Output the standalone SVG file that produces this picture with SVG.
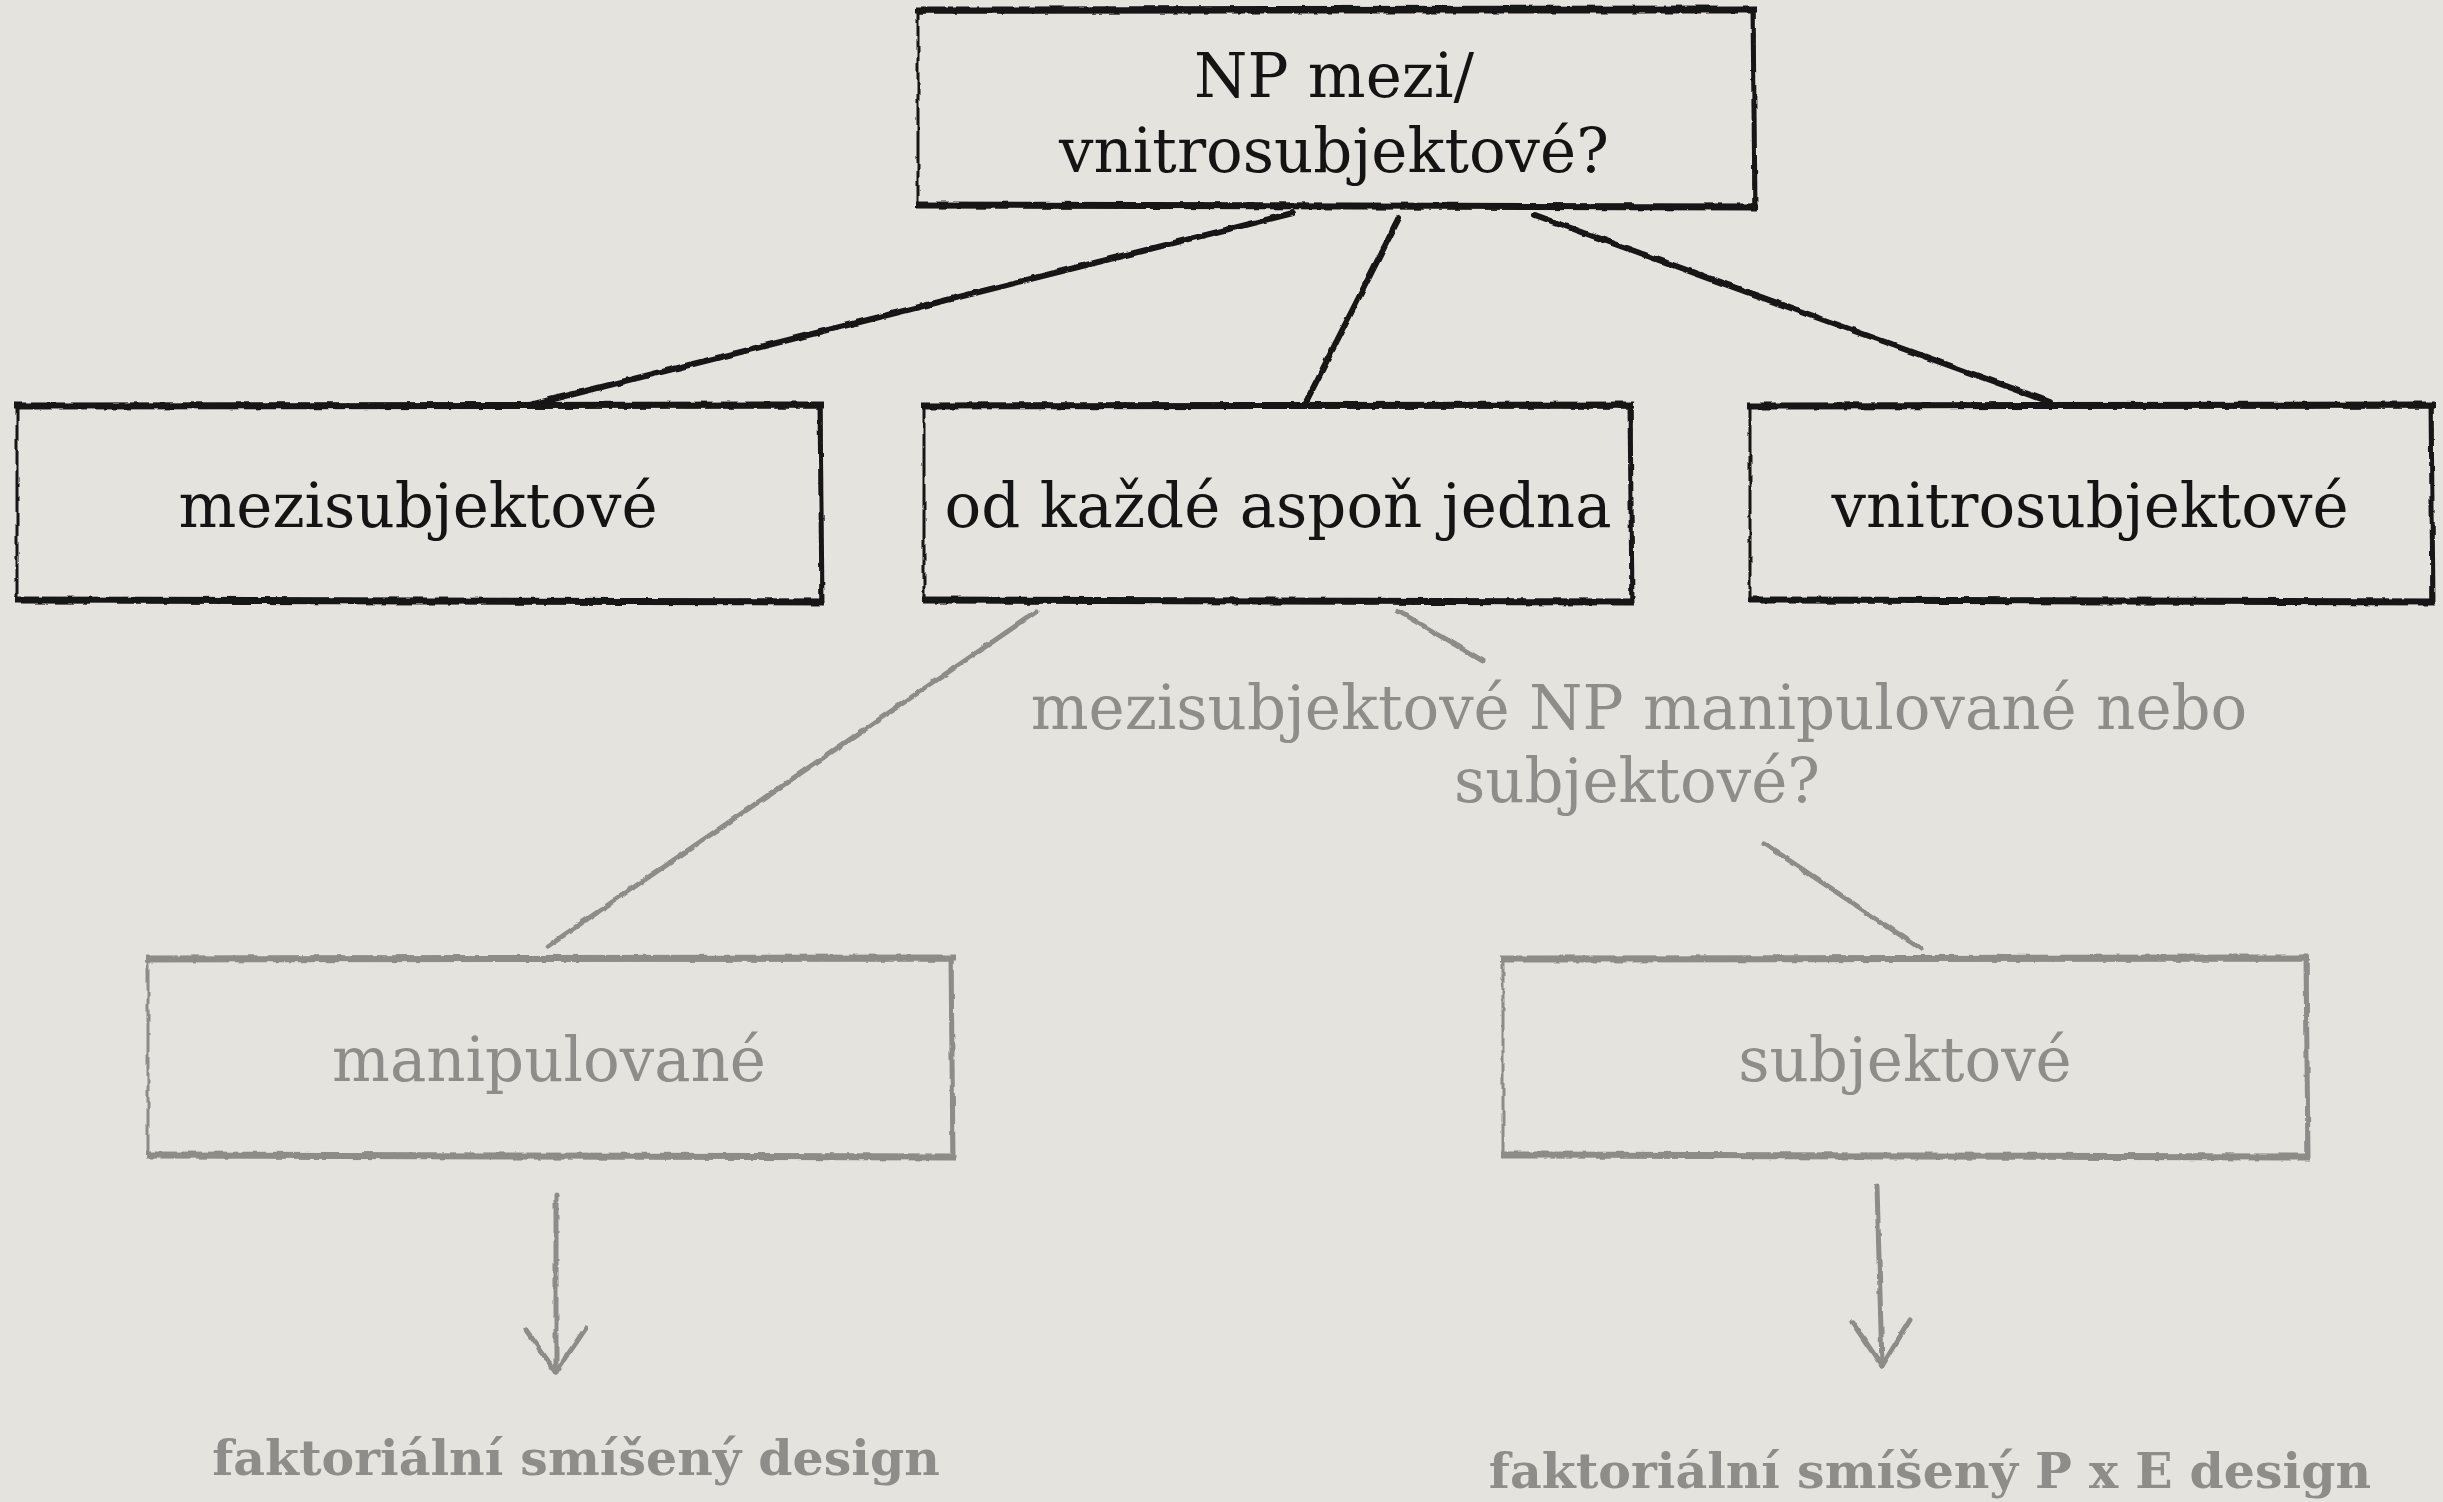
<svg xmlns="http://www.w3.org/2000/svg" width="2443" height="1502" viewBox="0 0 2443 1502">
<defs>
<style>
.bk{fill:none;stroke:#151515;stroke-width:5}
.bkh{fill:none;stroke:#151515;stroke-width:7}
.bkt{fill:none;stroke:#151515;stroke-width:3}
.gy{fill:none;stroke:#8d8c89;stroke-width:5}
.gyh{fill:none;stroke:#8d8c89;stroke-width:7}
.t{font-family:"DejaVu Serif","Liberation Serif",serif;font-size:61px;text-anchor:middle}
.tb{fill:#141414}
.tg{fill:#8e8d8a}
.bold{font-family:"DejaVu Serif","Liberation Serif",serif;font-weight:bold;font-size:49px;text-anchor:middle;fill:#8e8d8a}
.cb{fill:none;stroke:#151515;stroke-width:6;stroke-linecap:round}
.cg{fill:none;stroke:#8d8c89;stroke-width:5;stroke-linecap:round;stroke-linejoin:round}
.rough{filter:url(#rough)}
</style>
<filter id="rough" x="-5%" y="-5%" width="110%" height="110%">
<feTurbulence type="fractalNoise" baseFrequency="0.08" numOctaves="2" seed="7" result="n"/>
<feDisplacementMap in="SourceGraphic" in2="n" scale="4" xChannelSelector="R" yChannelSelector="G"/>
</filter>
</defs>
<rect x="0" y="0" width="2443" height="1502" fill="#e5e3de"/>

<g id="connectors" class="rough">
<path class="cb" d="M1293,213 L530,405"/>
<path class="cb" d="M1399,218 L1306,402"/>
<path class="cb" d="M1535,215 L2050,402"/>
<path class="cg" d="M1036,612 L548,946"/>
<path class="cg" d="M1398,611 L1483,661"/>
<path class="cg" d="M1765,844 L1921,949"/>
<path class="cg" d="M556,1195 L556,1372"/>
<path class="cg" d="M526,1330 L556,1372 L586,1328"/>
<path class="cg" d="M1877,1186 L1882,1366"/>
<path class="cg" d="M1852,1322 L1882,1366 L1910,1320"/>
</g>

<g id="n-top">
<g class="rough">
<rect class="bkt" x="918" y="12" width="836" height="194"/>
<path class="bkh" d="M915,10 L1757,9 M916,205 L1758,207"/>
<path class="bk" d="M1753,10 L1755,208"/>
</g>
<text class="t tb" x="1334" y="97">NP mezi/</text>
<text class="t tb" x="1334" y="172">vnitrosubjektové?</text>
</g>

<g id="n-mezi">
<g class="rough">
<rect class="bkt" x="17" y="407" width="804" height="194"/>
<path class="bkh" d="M14,406 L824,405 M15,600 L824,602"/>
<path class="bk" d="M820,405 L822,603"/>
</g>
<text class="t tb" x="418" y="527">mezisubjektové</text>
</g>

<g id="n-kazde">
<g class="rough">
<rect class="bkt" x="924" y="407" width="707" height="194"/>
<path class="bkh" d="M921,406 L1634,405 M922,600 L1634,602"/>
<path class="bk" d="M1630,405 L1632,603"/>
</g>
<text class="t tb" x="1278" y="527">od každé aspoň jedna</text>
</g>

<g id="n-vnitro">
<g class="rough">
<rect class="bkt" x="1750" y="407" width="682" height="194"/>
<path class="bkh" d="M1747,406 L2435,405 M1748,600 L2435,602"/>
<path class="bk" d="M2431,405 L2433,603"/>
</g>
<text class="t tb" x="2090" y="527">vnitrosubjektové</text>
</g>

<g id="n-question">
<text class="t tg" x="1639" y="729">mezisubjektové NP manipulované nebo</text>
<text class="t tg" x="1637" y="802">subjektové?</text>
</g>

<g id="n-manip">
<g class="rough">
<rect class="gyt" x="148" y="960" width="804" height="196" style="fill:none;stroke:#8d8c89;stroke-width:3"/>
<path class="gyh" d="M145,959 L955,958 M146,1155 L955,1157"/>
<path class="gy" d="M951,958 L953,1158"/>
</g>
<text class="t tg" x="549" y="1081">manipulované</text>
</g>

<g id="n-subj">
<g class="rough">
<rect x="1503" y="960" width="804" height="196" style="fill:none;stroke:#8d8c89;stroke-width:3"/>
<path class="gyh" d="M1500,959 L2310,958 M1501,1155 L2310,1157"/>
<path class="gy" d="M2306,958 L2308,1158"/>
</g>
<text class="t tg" x="1905" y="1081">subjektové</text>
</g>

<g id="n-design1">
<text class="bold" x="576" y="1475">faktoriální smíšený design</text>
</g>

<g id="n-design2">
<text class="bold" x="1930" y="1488">faktoriální smíšený P x E design</text>
</g>
</svg>
